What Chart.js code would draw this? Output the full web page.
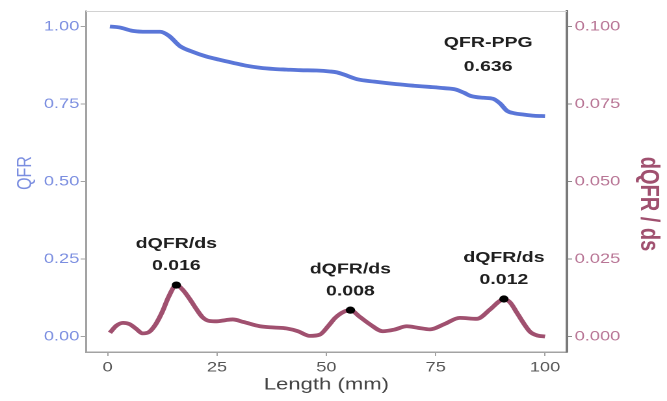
<!DOCTYPE html>
<html>
<head>
<meta charset="utf-8">
<script src="https://cdn.jsdelivr.net/npm/chart.js@4"></script>
<style>
  html, body { margin: 0; padding: 0; background: #fff; }
  /* the reference is stretched sideways, so the canvas is drawn narrow and widened */
  #qfr { display: block; }
</style>
</head>
<body>
<canvas id="qfr" width="513" height="401" style="width:667px;height:401px"></canvas>
<script>
const qfrLength = [0.5, 2.7, 5.7, 9, 12, 14, 16.5, 19.5, 22.6, 25.5, 28.6, 31.5, 34.8, 38, 40.9, 44, 47.8, 50.8, 52.4, 54, 57, 61, 66, 70, 73.7, 77, 79.5, 81.5, 83, 86, 88.1, 89.7, 91.3, 93, 95, 97.5, 100];
const qfrValues = [1.000, 0.997, 0.986, 0.983, 0.983, 0.970, 0.937, 0.918, 0.903, 0.893, 0.883, 0.874, 0.867, 0.863, 0.861, 0.859, 0.858, 0.855, 0.852, 0.845, 0.830, 0.822, 0.814, 0.809, 0.805, 0.801, 0.797, 0.786, 0.776, 0.770, 0.767, 0.752, 0.728, 0.720, 0.716, 0.712, 0.711];

const dqfrLength = [0.5, 2, 3.5, 5, 6.5, 8, 9.5, 11, 12.5, 14, 15.7, 17.2, 18.8, 20.3, 21.7, 23.3, 25, 27, 28.6, 31, 34.8, 38, 40.9, 43.5, 46.2, 48.5, 50.5, 52, 54, 55.5, 57.5, 60, 62.9, 65.5, 68.4, 71, 73.7, 77, 80.5, 84.4, 87.4, 89.5, 90.6, 92, 93.6, 95, 96.6, 98.3, 100];
const dqfrValues = [0.0012, 0.0035, 0.0044, 0.0040, 0.0025, 0.0010, 0.0015, 0.0040, 0.0080, 0.0130, 0.0166, 0.0150, 0.0120, 0.0088, 0.0062, 0.0050, 0.0049, 0.0053, 0.0055, 0.0047, 0.0033, 0.0029, 0.0026, 0.0017, 0.0002, 0.0006, 0.0035, 0.0060, 0.0080, 0.0085, 0.0065, 0.0039, 0.0017, 0.0022, 0.0033, 0.0028, 0.0023, 0.0040, 0.0060, 0.0057, 0.0087, 0.0113, 0.0121, 0.0110, 0.0076, 0.0045, 0.0015, 0.0003, 0.0000];

const peakLength = [15.7, 55.5, 90.6];
const peakValues = [0.0166, 0.0085, 0.0121];
const peakLabels = ['0.016', '0.008', '0.012'];

const qfrPpgLabel = ['QFR-PPG', '0.636'];
const qfrPpgAt = { x: 87, y: 0.948 };

const xTicks = [0, 25, 50, 75, 100];
const qfrTicks = [0, 0.25, 0.5, 0.75, 1];
const dqfrTicks = [0, 0.025, 0.05, 0.075, 0.1];

const BLUE = '#5a76d8';
const BLUE_TEXT = '#7b8ee0';
const MAROON = '#a0506f';
const MAROON_TEXT = '#b87595';
const FONT = "'Liberation Sans', Arial, sans-serif";

const toPoints = (xs, ys) => xs.map((x, i) => ({ x: x, y: ys[i] }));

function rotatedText(ctx, text, x, y, angle) {
  ctx.save();
  ctx.translate(x, y);
  ctx.rotate(angle);
  ctx.fillText(text, 0, 0);
  ctx.restore();
}

const labelsPlugin = {
  id: 'labels',
  afterDatasetsDraw(chart) {
    const ctx = chart.ctx;
    const area = chart.chartArea;
    ctx.save();
    // light top border of the panel
    ctx.strokeStyle = '#d2d2d2';
    ctx.lineWidth = 1;
    ctx.beginPath();
    ctx.moveTo(area.left, area.top + 0.5);
    ctx.lineTo(area.right, area.top + 0.5);
    ctx.stroke();

    ctx.fillStyle = '#1f1f1f';
    ctx.font = 'bold 15px ' + FONT;
    ctx.textAlign = 'center';
    ctx.textBaseline = 'middle';
    const pts = chart.getDatasetMeta(0).data;
    pts.forEach((p, i) => {
      ctx.fillText('dQFR/ds', p.x, p.y - 41);
      ctx.fillText(peakLabels[i], p.x, p.y - 19);
    });

    const px = chart.scales.x.getPixelForValue(qfrPpgAt.x);
    const py = chart.scales.y.getPixelForValue(qfrPpgAt.y);
    ctx.fillText(qfrPpgLabel[0], px, py);
    ctx.fillText(qfrPpgLabel[1], px, py + 24);

    // vertical axis titles, placed off-centre as in the reference
    ctx.fillStyle = BLUE_TEXT;
    ctx.font = '16px ' + FONT;
    rotatedText(ctx, 'QFR', 19.5, 173, -Math.PI / 2);
    ctx.fillStyle = MAROON;
    ctx.font = 'bold 20px ' + FONT;
    rotatedText(ctx, 'dQFR / ds', 498.5, 204, Math.PI / 2);
    ctx.restore();
  }
};

function fixTicks(list) {
  return scale => { scale.ticks = list.map(v => ({ value: v })); };
}

new Chart(document.getElementById('qfr'), {
  type: 'line',
  data: {
    datasets: [
      {
        label: 'peaks',
        data: toPoints(peakLength, peakValues),
        yAxisID: 'y2',
        showLine: false,
        pointRadius: 3.6,
        pointBackgroundColor: '#000',
        pointBorderWidth: 0,
        order: 0
      },
      {
        label: 'dQFR / ds',
        data: toPoints(dqfrLength, dqfrValues),
        yAxisID: 'y2',
        borderColor: MAROON,
        borderWidth: 3.8,
        pointRadius: 0,
        cubicInterpolationMode: 'monotone',
        order: 1
      },
      {
        label: 'QFR',
        data: toPoints(qfrLength, qfrValues),
        yAxisID: 'y',
        borderColor: BLUE,
        borderWidth: 3.8,
        pointRadius: 0,
        cubicInterpolationMode: 'monotone',
        order: 2
      }
    ]
  },
  options: {
    responsive: false,
    animation: false,
    devicePixelRatio: 2,
    layout: { padding: { top: 11, right: 0, bottom: 0, left: 0 } },
    plugins: { legend: { display: false }, tooltip: { enabled: false } },
    scales: {
      x: {
        type: 'linear',
        min: -5,
        max: 105,
        afterBuildTicks: fixTicks(xTicks),
        afterFit: s => { s.height = 49; s.paddingLeft = 0; s.paddingRight = 0; },
        border: { display: true, color: '#a3a3a3', width: 1.5 },
        grid: { drawOnChartArea: false, tickLength: 4, tickColor: '#a3a3a3', tickWidth: 1 },
        ticks: {
          color: '#555',
          font: { family: FONT, size: 14 },
          padding: 3,
          maxRotation: 0,
          callback: v => String(v)
        },
        title: {
          display: true,
          text: 'Length (mm)',
          color: '#444',
          font: { family: FONT, size: 17 },
          padding: { top: 0, bottom: 6 }
        }
      },
      y: {
        position: 'left',
        min: -0.05,
        max: 1.05,
        afterBuildTicks: fixTicks(qfrTicks),
        afterFit: s => { s.width = 66; s.paddingTop = 0; s.paddingBottom = 0; },
        border: { display: true, color: '#a3a3a3', width: 1.5 },
        grid: { drawOnChartArea: false, tickLength: 4, tickColor: '#a3a3a3', tickWidth: 1 },
        ticks: {
          color: BLUE_TEXT,
          font: { family: FONT, size: 14 },
          padding: 1,
          callback: v => v.toFixed(2)
        }
      },
      y2: {
        position: 'right',
        min: -0.005,
        max: 0.105,
        afterBuildTicks: fixTicks(dqfrTicks),
        afterFit: s => { s.width = 77; s.paddingTop = 0; s.paddingBottom = 0; },
        border: { display: true, color: '#7a7a7a', width: 2 },
        grid: { drawOnChartArea: false, tickLength: 4, tickColor: '#8a8a8a', tickWidth: 1 },
        ticks: {
          color: MAROON_TEXT,
          font: { family: FONT, size: 14 },
          padding: 2,
          callback: v => v.toFixed(3)
        }
      }
    }
  },
  plugins: [labelsPlugin]
});
</script>
</body>
</html>
